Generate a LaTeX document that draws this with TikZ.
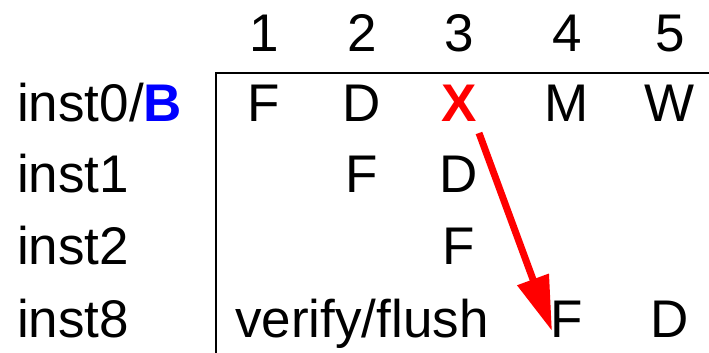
\documentclass[tikz,border=0pt]{standalone}
\usepackage{fontspec}
\setmainfont{Liberation Sans}
\usetikzlibrary{arrows.meta}
\begin{document}
\begin{tikzpicture}[x=1pt,y=1pt,
  cell/.style={anchor=base,inner sep=0pt,font=\fontsize{53}{60}\selectfont},
  lab/.style={anchor=base west,inner sep=0pt,font=\fontsize{53}{60}\selectfont},
  rule/.style={line width=2pt,black},
  move/.style={red,line width=7pt,-{Triangle[length=55pt,width=32pt]}}]
\useasboundingbox (0,0) rectangle (709,353);
% headers
\node[cell] (h1) at (264,301) {1};
\node[cell] (h2) at (362,301) {2};
\node[cell] (h3) at (459,301) {3};
\node[cell] (h4) at (567,301) {4};
\node[cell] (h5) at (670,301) {5};
% row labels
\node[lab] (l0) at (17,231) {inst0/\textcolor{blue}{\textbf{B}}};
\node[lab] (l1) at (17,160) {inst1};
\node[lab] (l2) at (17,88) {inst2};
\node[lab] (l3) at (17,15) {inst8};
% grid rules
\coordinate (c) at (216,280);
\coordinate (r) at (709,280);
\coordinate (b) at (216,0);
\draw[rule] (r) -- (c) -- (b);
% row 0
\node[cell] (a1) at (264,231) {F};
\node[cell] (a2) at (362,231) {D};
\node[cell,text=red,font=\fontsize{53}{60}\selectfont\bfseries] (a3) at (459,231) {X};
\node[cell] (a4) at (567,231) {M};
\node[cell] (a5) at (670,231) {W};
% row 1
\node[cell] (b2) at (362,160) {F};
\node[cell] (b3) at (459,160) {D};
% row 2
\node[cell] (c3) at (459,88) {F};
% row 3
\node[cell] (d2) at (362,15) {verify/flush};
\node[cell] (d4) at (567,15) {F};
\node[cell] (d5) at (670,15) {D};
% arrow
\coordinate (as) at (479,220);
\coordinate (ae) at (552,22);
\draw[move] (as) -- (ae);
\end{tikzpicture}
\end{document}
